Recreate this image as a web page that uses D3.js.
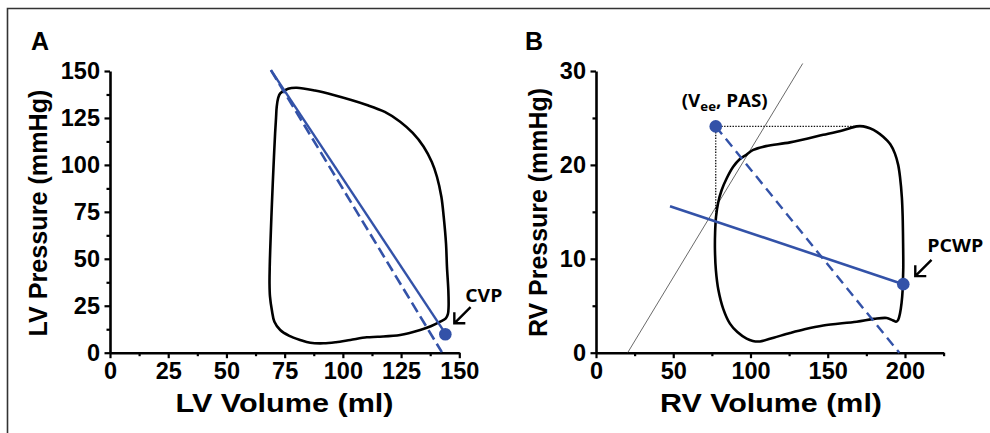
<!DOCTYPE html>
<html><head><meta charset="utf-8">
<script src="https://cdn.jsdelivr.net/npm/d3@7"></script>
<style>
body{margin:0;background:#fff;}
svg{display:block;}
</style></head>
<body>
<svg id="c" width="990" height="433"></svg>
<script>
// ---------- DATA ----------
// Panel A: LV pressure-volume loop [volume ml, pressure mmHg]
const lvLoop = [
  [73.1,138.1],[76.5,140.6],[80.2,141.1],[88,139.6],[96.0,137.2],[110.3,131.9],[118,128.2],[124.6,123.0],
  [130,117],[134.7,109.7],[138.2,101.5],[140.4,93.7],[142.3,83],[143.3,72.4],[144.3,58],[144.7,45.8],
  [145.3,33],[145.4,24.5],[145.1,20.5],[144.2,18.3],[141.8,16.5],[138,14.2],[133.2,12.1],[124.6,9.4],
  [115,8.5],[110.3,8.2],[103.2,6.8],[97,5.6],[91.7,5.0],[86,5.3],[81.7,6.8],[77,9],[73.1,12.1],
  [70.6,16.5],[69.5,22.7],[68.7,30],[68.5,37.0],[68.6,46],[68.8,54.7],[69.3,72],[69.9,90.2],
  [70.4,104],[70.9,116.8],[71.3,125],[71.6,131.0],[72.2,135.5]
];
const lvEsLine = [[69.1,150.5],[144.0,10.3]];      // solid blue
const lvEsDashed = [[69.1,150.5],[142.5,0.3]];     // dashed blue
const lvCVP = [144.0,9.8];

// Panel B: RV pressure-volume loop
const rvLoop = [
  [101.8,21.6],[110,22.0],[125.6,22.4],[147.1,23.2],[160,23.7],[168.7,24.1],[173,24.1],[177.3,23.9],
  [182,23.5],[185.9,23.0],[190.5,22.2],[193.5,21.2],[195.6,20.0],[196.8,18.7],[198.0,16.5],[198.5,14.5],
  [198.8,11.5],[198.9,9.1],[198.7,7.8],[198.5,6.7],[197.8,5.3],[196.8,4.2],[195.6,3.5],[194.2,3.3],
  [192.8,3.4],[191.4,3.5],[188.2,3.7],[180,3.6],[168.7,3.3],[147.1,2.9],[135,2.5],[125.6,2.1],
  [115,1.6],[106.1,1.2],[101.5,1.25],[97.5,1.5],[91.5,2.2],[86.7,3.1],[82.3,4.7],[79.2,6.7],
  [77.6,8.8],[77.0,10.9],[77.1,12.8],[77.7,14.5],[79.1,16.0],[81.3,17.3],[84.7,18.6],[88.8,19.8],
  [93,20.6],[97.5,21.1]
];
const rvSolid = [[47.9,15.6],[198.9,7.3]];
const rvDashed = [[77.5,24.1],[196.3,0]];
const rvGray = [[20.5,0],[133.8,30.8]];
const rvVee = [77.5,24.1];
const rvPCWP = [198.9,7.3];
const rvDottedH = [[77.5,24.1],[168.7,24.1]];
const rvDottedV = [[77.5,24.1],[77.5,14.6]];

// Axes ticks
const lvXTicks = [0,25,50,75,100,125,150];
const lvXMinor = [12.5,37.5,62.5,87.5,112.5,137.5];
const lvYTicks = [0,25,50,75,100,125,150];
const lvYMinor = [12.5,37.5,62.5,87.5,112.5,137.5];
const rvXTicks = [0,50,100,150,200];
const rvXMinor = [25,75,125,175,225];
const rvYTicks = [0,10,20,30];
const rvYMinor = [5,15,25];

// ---------- DRAW ----------
const svg = d3.select('#c');
const BLUE = '#3352a8';
const FONT = '"Liberation Sans", Arial, sans-serif';
const LFONT = '"Open Sans", "Noto Sans", sans-serif';

// frame
svg.append('path').attr('d','M7.5,433 V8.5 H990').attr('fill','none').attr('stroke','#333').attr('stroke-width',1.6);

function panel(cfg){
  const x = d3.scaleLinear().domain(cfg.xDom).range(cfg.xRange);
  const y = d3.scaleLinear().domain(cfg.yDom).range([352.7,71]);
  const g = svg.append('g');

  const yAxisY = y(cfg.yDom[0]);
  const gx = g.append('g').attr('transform',`translate(0,${yAxisY})`);
  gx.call(d3.axisBottom(x).tickValues(cfg.xTicks).tickSize(5.5).tickPadding(4.5).tickSizeOuter(0));
  gx.append('g').call(d3.axisBottom(x).tickValues(cfg.xMinor).tickSize(3.5).tickFormat('').tickSizeOuter(0))
    .select('.domain').remove();
  const gy = g.append('g').attr('transform',`translate(${x(0)},0)`);
  gy.call(d3.axisLeft(y).tickValues(cfg.yTicks).tickSize(5.5).tickPadding(4.5).tickSizeOuter(0));
  gy.append('g').call(d3.axisLeft(y).tickValues(cfg.yMinor).tickSize(3.5).tickFormat('').tickSizeOuter(0))
    .select('.domain').remove();
  g.selectAll('.domain').attr('stroke','#000').attr('stroke-width',2.6);
  g.selectAll('.tick line').attr('stroke','#000').attr('stroke-width',2.2);
  g.selectAll('.tick text').attr('font-family',FONT).attr('font-weight','bold').attr('font-size',23.5).attr('fill','#000');

  g.append('text').attr('x',cfg.xTitlePos[0]).attr('y',cfg.xTitlePos[1]).attr('text-anchor','middle')
    .attr('font-family',FONT).attr('font-weight','bold').attr('font-size',25.5)
    .attr('textLength',cfg.xTitleLen).attr('lengthAdjust','spacingAndGlyphs').text(cfg.xTitle);
  g.append('text').attr('transform',`translate(${cfg.yTitlePos[0]},${cfg.yTitlePos[1]}) rotate(-90)`)
    .attr('text-anchor','middle').attr('font-family',FONT).attr('font-weight','bold').attr('font-size',25.5)
    .attr('textLength',cfg.yTitleLen).attr('lengthAdjust','spacingAndGlyphs').text(cfg.yTitle);
  g.append('text').attr('x',cfg.letterPos[0]).attr('y',cfg.letterPos[1]).attr('font-family',FONT)
    .attr('font-weight','bold').attr('font-size',25).text(cfg.letter);
  return {g,x,y};
}

const A = panel({xDom:[0,150],xRange:[110,459.3],yDom:[0,150],xTicks:lvXTicks,xMinor:lvXMinor,yTicks:lvYTicks,yMinor:lvYMinor,
  xTitle:'LV Volume (ml)',xTitlePos:[284.5,412],xTitleLen:218,yTitle:'LV Pressure (mmHg)',yTitlePos:[47,213],yTitleLen:247,
  letter:'A',letterPos:[31,50]});
const B = panel({xDom:[0,225],xRange:[596,943.6],yDom:[0,30],xTicks:rvXTicks,xMinor:rvXMinor,yTicks:rvYTicks,yMinor:rvYMinor,
  xTitle:'RV Volume (ml)',xTitlePos:[771,412],xTitleLen:222,yTitle:'RV Pressure (mmHg)',yTitlePos:[547,212.5],yTitleLen:249,
  letter:'B',letterPos:[525,50]});

function drawLine(P, pts, opts){
  const gen = d3.line().x(d=>P.x(d[0])).y(d=>P.y(d[1]));
  return P.g.append('path').attr('d',gen(pts)).attr('fill','none')
    .attr('stroke',opts.color).attr('stroke-width',opts.w).attr('stroke-dasharray',opts.dash||null);
}
function drawLoop(P, pts){
  const gen = d3.line().x(d=>P.x(d[0])).y(d=>P.y(d[1])).curve(d3.curveCatmullRomClosed.alpha(0.5));
  P.g.append('path').attr('d',gen(pts)).attr('fill','none').attr('stroke','#000').attr('stroke-width',2.6)
    .attr('stroke-linejoin','round');
}
function dot(P, p){
  P.g.append('circle').attr('cx',P.x(p[0])).attr('cy',P.y(p[1])).attr('r',6.3).attr('fill',BLUE);
}
function arrow(P, p, dx, dy, len){
  const cx=P.x(p[0]), cy=P.y(p[1]);
  const tipX = cx + dx, tipY = cy + dy;
  const ux = Math.SQRT1_2, uy = -Math.SQRT1_2;
  const tailX = tipX + ux*len, tailY = tipY + uy*len;
  P.g.append('path').attr('d',`M${tailX},${tailY}L${tipX},${tipY}M${tipX},${tipY-11}L${tipX},${tipY}L${tipX+11},${tipY}`)
    .attr('fill','none').attr('stroke','#000').attr('stroke-width',2.4).attr('stroke-linejoin','miter');
}
function label(P, p, dx, dy, txt, len){
  return P.g.append('text').attr('x',P.x(p[0])+dx).attr('y',P.y(p[1])+dy).attr('font-family',LFONT)
    .attr('font-weight',700).attr('font-size',17.5).attr('textLength',len).attr('lengthAdjust','spacingAndGlyphs').text(txt);
}

// Panel A
drawLoop(A, lvLoop);
drawLine(A, lvEsDashed, {color:BLUE,w:2.6,dash:'11,5'});
drawLine(A, lvEsLine, {color:BLUE,w:2.4});
dot(A, lvCVP);
arrow(A, lvCVP, 9, -11, 23);
label(A, lvCVP, 20, -32, 'CVP', 37);

// Panel B
drawLine(B, rvGray, {color:'#444',w:0.8});
drawLine(B, rvDottedH, {color:'#111',w:1.3,dash:'1.4,1.4'});
drawLine(B, rvDottedV, {color:'#111',w:1.3,dash:'1.4,1.4'});
drawLoop(B, rvLoop);
drawLine(B, rvDashed, {color:BLUE,w:2.4,dash:'10,6'});
drawLine(B, rvSolid, {color:BLUE,w:2.6});
dot(B, rvVee);
dot(B, rvPCWP);
arrow(B, rvPCWP, 12, -8, 23);
label(B, rvPCWP, 24, -32, 'PCWP', 56);
// (Vee, PAS)
const vt = B.g.append('text').attr('x',B.x(rvVee[0])-34).attr('y',B.y(rvVee[1])-19.5)
  .attr('font-family',LFONT).attr('font-weight',700).attr('font-size',18.5)
  .attr('textLength',86).attr('lengthAdjust','spacingAndGlyphs');
vt.append('tspan').text('(V');
vt.append('tspan').attr('font-size',13).attr('dy',4).text('ee');
vt.append('tspan').attr('dy',-4).text(', PAS)');
</script>
</body></html>
